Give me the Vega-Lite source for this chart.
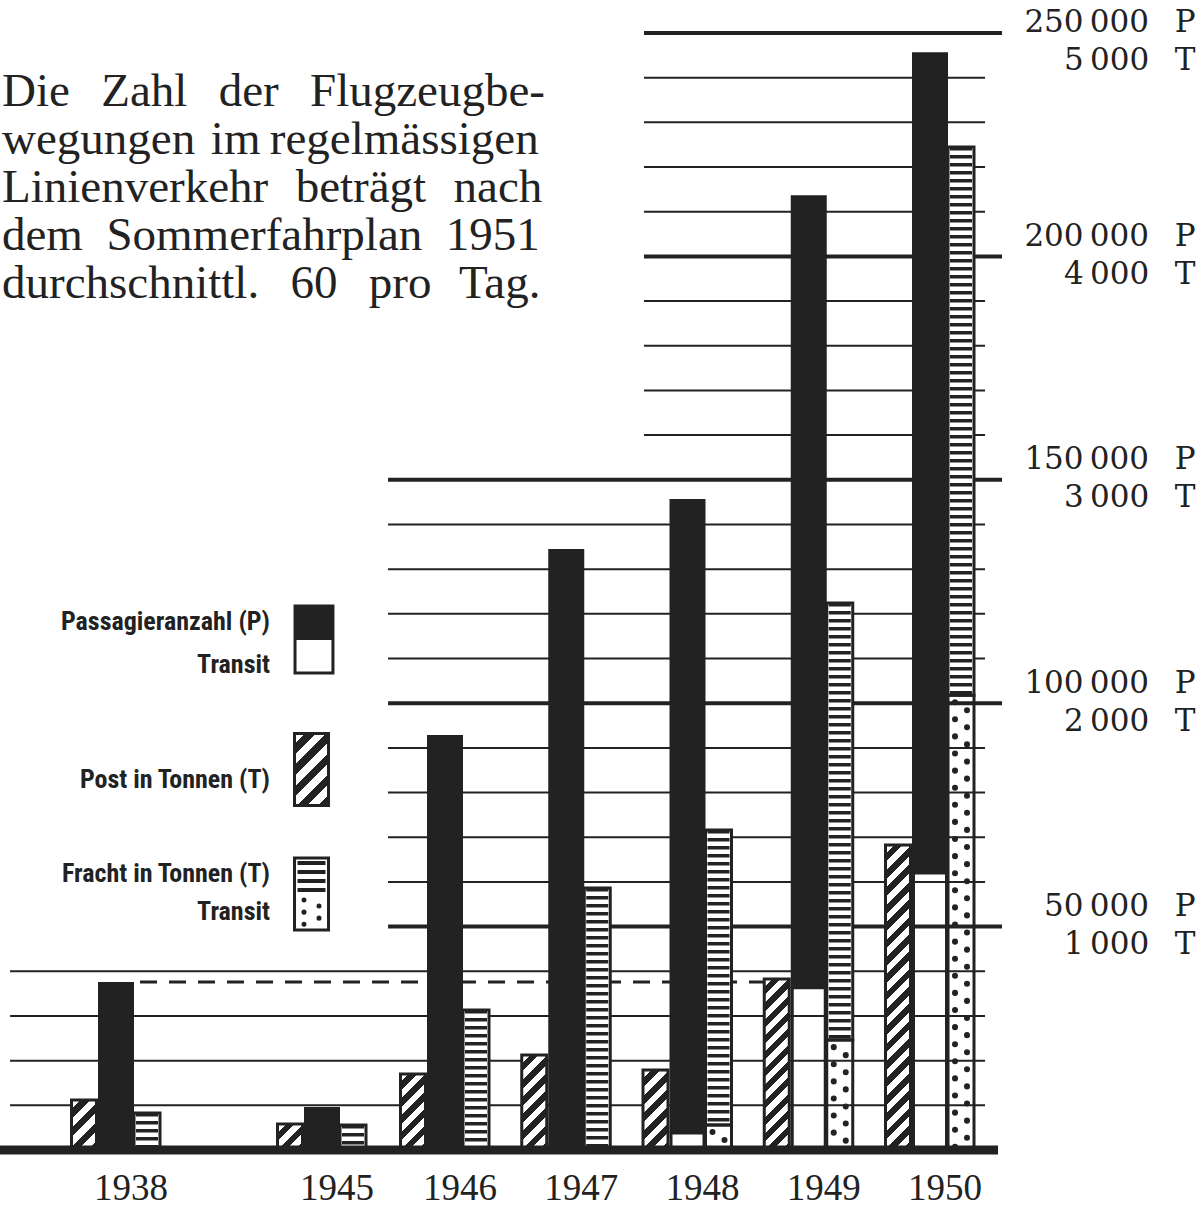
{
  "$schema": "https://vega.github.io/schema/vega-lite/v6.json",
  "width": 1203,
  "height": 1150,
  "autosize": "none",
  "padding": {"left": 0, "top": 0, "right": 0, "bottom": 59},
  "background": "white",
  "config": {"view": {"stroke": null}},
  "datasets": {
    "jahre": [
      {"Jahr": 1938, "Passagiere": 37600, "Passagiere_Transit": 0, "Post_t": 224, "Fracht_t": 166, "Fracht_Transit_t": 0},
      {"Jahr": 1945, "Passagiere": 9600, "Passagiere_Transit": 0, "Post_t": 116, "Fracht_t": 112, "Fracht_Transit_t": 0},
      {"Jahr": 1946, "Passagiere": 92900, "Passagiere_Transit": 0, "Post_t": 340, "Fracht_t": 627, "Fracht_Transit_t": 0},
      {"Jahr": 1947, "Passagiere": 134500, "Passagiere_Transit": 0, "Post_t": 425, "Fracht_t": 1173, "Fracht_Transit_t": 0},
      {"Jahr": 1948, "Passagiere": 145700, "Passagiere_Transit": 3800, "Post_t": 358, "Fracht_t": 1432, "Fracht_Transit_t": 112},
      {"Jahr": 1949, "Passagiere": 213700, "Passagiere_Transit": 36300, "Post_t": 765, "Fracht_t": 2448, "Fracht_Transit_t": 492},
      {"Jahr": 1950, "Passagiere": 245700, "Passagiere_Transit": 62000, "Post_t": 1365, "Fracht_t": 4490, "Fracht_Transit_t": 2036}
    ],
    "raster": [
      {"Stufe": 10000}, {"Stufe": 20000}, {"Stufe": 30000}, {"Stufe": 40000}, {"Stufe": 50000},
      {"Stufe": 60000}, {"Stufe": 70000}, {"Stufe": 80000}, {"Stufe": 90000}, {"Stufe": 100000},
      {"Stufe": 110000}, {"Stufe": 120000}, {"Stufe": 130000}, {"Stufe": 140000}, {"Stufe": 150000},
      {"Stufe": 160000}, {"Stufe": 170000}, {"Stufe": 180000}, {"Stufe": 190000}, {"Stufe": 200000},
      {"Stufe": 210000}, {"Stufe": 220000}, {"Stufe": 230000}, {"Stufe": 240000}, {"Stufe": 250000}
    ]
  },
  "resolve": {"scale": {"y": "independent"}, "axis": {"y": "independent"}},
  "layer": [
    {
      "data": {"name": "raster"},
      "transform": [{"filter": "datum.Stufe < 50000"}],
      "mark": {"type": "rule", "stroke": "#222", "strokeWidth": 2},
      "encoding": {
        "y": {"field": "Stufe", "type": "quantitative",
          "scale": {"domain": [0, 250000], "range": [1150, 33], "nice": false, "zero": false},
          "axis": {"orient": "right", "values": [50000, 100000, 150000, 200000, 250000],
            "labelExpr": "[replace(format(datum.value, ','), ',', '\u2009') + '\u2002\u2004P', replace(format(datum.value / 50, ','), ',', '\u2009') + '\u2002\u2004T']",
            "labelFont": "DejaVu Serif", "labelFontSize": 31, "labelLineHeight": 38, "labelAlign": "right", "labelBaseline": "middle",
            "labelPadding": -8, "labelOffset": {"condition": {"test": "datum.value == 250000", "value": -11}, "value": -20},
            "labelColor": "#222", "labelOverlap": false, "labelFlush": false,
            "ticks": false, "domain": false, "grid": false, "title": null}},
        "x": {"datum": 1934.4, "type": "quantitative", "scale": {"type": "linear", "domain": [1938, 1945, 1946, 1950], "range": [116, 322, 445, 930], "nice": false, "zero": false, "padding": 0}, "axis": null},
        "x2": {"datum": 1950.454}
      }
    },
    {
      "data": {"name": "raster"},
      "transform": [{"filter": "datum.Stufe > 50000 && datum.Stufe < 150000 && datum.Stufe % 50000 != 0"}],
      "mark": {"type": "rule", "stroke": "#222", "strokeWidth": 2},
      "encoding": {
        "y": {"field": "Stufe", "type": "quantitative", "scale": {"domain": [0, 250000], "range": [1150, 33], "nice": false, "zero": false}, "axis": null},
        "x": {"datum": 1945.537, "type": "quantitative", "scale": {"type": "linear", "domain": [1938, 1945, 1946, 1950], "range": [116, 322, 445, 930], "nice": false, "zero": false, "padding": 0}, "axis": null},
        "x2": {"datum": 1950.454}
      }
    },
    {
      "data": {"name": "raster"},
      "transform": [{"filter": "datum.Stufe <= 150000 && datum.Stufe % 50000 == 0"}],
      "mark": {"type": "rule", "stroke": "#222", "strokeWidth": 4},
      "encoding": {
        "y": {"field": "Stufe", "type": "quantitative", "scale": {"domain": [0, 250000], "range": [1150, 33], "nice": false, "zero": false}, "axis": null},
        "x": {"datum": 1945.537, "type": "quantitative", "scale": {"type": "linear", "domain": [1938, 1945, 1946, 1950], "range": [116, 322, 445, 930], "nice": false, "zero": false, "padding": 0}, "axis": null},
        "x2": {"datum": 1950.594}
      }
    },
    {
      "data": {"name": "raster"},
      "transform": [{"filter": "datum.Stufe > 150000 && datum.Stufe % 50000 != 0"}],
      "mark": {"type": "rule", "stroke": "#222", "strokeWidth": 2},
      "encoding": {
        "y": {"field": "Stufe", "type": "quantitative", "scale": {"domain": [0, 250000], "range": [1150, 33], "nice": false, "zero": false}, "axis": null},
        "x": {"datum": 1947.641, "type": "quantitative", "scale": {"type": "linear", "domain": [1938, 1945, 1946, 1950], "range": [116, 322, 445, 930], "nice": false, "zero": false, "padding": 0}, "axis": null},
        "x2": {"datum": 1950.454}
      }
    },
    {
      "data": {"name": "raster"},
      "transform": [{"filter": "datum.Stufe > 150000 && datum.Stufe % 50000 == 0"}],
      "mark": {"type": "rule", "stroke": "#222", "strokeWidth": 4},
      "encoding": {
        "y": {"field": "Stufe", "type": "quantitative", "scale": {"domain": [0, 250000], "range": [1150, 33], "nice": false, "zero": false}, "axis": null},
        "x": {"datum": 1947.641, "type": "quantitative", "scale": {"type": "linear", "domain": [1938, 1945, 1946, 1950], "range": [116, 322, 445, 930], "nice": false, "zero": false, "padding": 0}, "axis": null},
        "x2": {"datum": 1950.594}
      }
    },
    {
      "data": {"name": "jahre"},
      "transform": [{"filter": "datum.Jahr == 1938"}],
      "mark": {"type": "rule", "stroke": "#222", "strokeWidth": 3, "strokeDash": [17, 12]},
      "encoding": {
        "y": {"field": "Passagiere", "type": "quantitative", "scale": {"domain": [0, 250000], "range": [1150, 33], "nice": false, "zero": false}, "axis": null},
        "x": {"datum": 1938.816, "type": "quantitative", "scale": {"type": "linear", "domain": [1938, 1945, 1946, 1950], "range": [116, 322, 445, 930], "nice": false, "zero": false, "padding": 0}, "axis": null},
        "x2": {"datum": 1948.664}
      }
    },
    {
      "data": {"name": "jahre"},
      "mark": {"type": "bar", "width": 36, "color": "#222"},
      "encoding": {
        "x": {"field": "Jahr", "type": "quantitative", "scale": {"type": "linear", "domain": [1938, 1945, 1946, 1950], "range": [116, 322, 445, 930], "nice": false, "zero": false, "padding": 0}, "axis": null},
        "y": {"field": "Passagiere", "type": "quantitative", "scale": {"domain": [0, 250000], "range": [1150, 33], "nice": false, "zero": false}, "axis": null},
        "y2": {"field": "Passagiere_Transit"}
      }
    },
    {
      "data": {"name": "jahre"},
      "transform": [{"filter": "datum.Passagiere_Transit > 0"}],
      "mark": {"type": "bar", "width": 33, "fill": "white", "fillOpacity": 0, "stroke": "#222", "strokeWidth": 3},
      "encoding": {
        "x": {"field": "Jahr", "type": "quantitative", "scale": {"type": "linear", "domain": [1938, 1945, 1946, 1950], "range": [116, 322, 445, 930], "nice": false, "zero": false, "padding": 0}, "axis": null},
        "y": {"field": "Passagiere_Transit", "type": "quantitative", "scale": {"domain": [0, 250000], "range": [1150, 33], "nice": false, "zero": false}, "axis": null},
        "y2": {"datum": 0}
      }
    },
    {
      "data": {"name": "jahre"},
      "mark": {"type": "bar", "width": 25, "xOffset": -32, "stroke": "#222", "strokeWidth": 3},
      "encoding": {
        "x": {"field": "Jahr", "type": "quantitative", "scale": {"type": "linear", "domain": [1938, 1945, 1946, 1950], "range": [116, 322, 445, 930], "nice": false, "zero": false, "padding": 0}, "axis": null},
        "y": {"field": "Post_t", "type": "quantitative", "scale": {"domain": [0, 5000], "range": [1150, 33], "nice": false, "zero": false}, "axis": null},
        "y2": {"datum": 0},
        "fill": {
          "condition": [
            {"test": "datum.Jahr == 1938", "value": {"gradient": "linear", "x1": 0, "y1": 0, "x2": 0.6, "y2": 1.2, "stops": [{"offset":0,"color":"#fff"},{"offset":0.125,"color":"#fff"},{"offset":0.125,"color":"#222"},{"offset":0.25,"color":"#222"},{"offset":0.25,"color":"#fff"},{"offset":0.375,"color":"#fff"},{"offset":0.375,"color":"#222"},{"offset":0.5,"color":"#222"},{"offset":0.5,"color":"#fff"},{"offset":0.625,"color":"#fff"},{"offset":0.625,"color":"#222"},{"offset":0.75,"color":"#222"},{"offset":0.75,"color":"#fff"},{"offset":0.875,"color":"#fff"},{"offset":0.875,"color":"#222"},{"offset":1,"color":"#222"}]}},
            {"test": "datum.Jahr == 1945", "value": {"gradient": "linear", "x1": 0, "y1": 0, "x2": 0.982, "y2": 1.017, "stops": [{"offset":0,"color":"#fff"},{"offset":0.1667,"color":"#fff"},{"offset":0.1667,"color":"#222"},{"offset":0.3333,"color":"#222"},{"offset":0.3333,"color":"#fff"},{"offset":0.5,"color":"#fff"},{"offset":0.5,"color":"#222"},{"offset":0.6667,"color":"#222"},{"offset":0.6667,"color":"#fff"},{"offset":0.8333,"color":"#fff"},{"offset":0.8333,"color":"#222"},{"offset":1,"color":"#222"}]}},
            {"test": "datum.Jahr == 1946", "value": {"gradient": "linear", "x1": 0, "y1": 0, "x2": 0.3945, "y2": 1.1992, "stops": [{"offset":0,"color":"#fff"},{"offset":0.0833,"color":"#fff"},{"offset":0.0833,"color":"#222"},{"offset":0.1667,"color":"#222"},{"offset":0.1667,"color":"#fff"},{"offset":0.25,"color":"#fff"},{"offset":0.25,"color":"#222"},{"offset":0.3333,"color":"#222"},{"offset":0.3333,"color":"#fff"},{"offset":0.4167,"color":"#fff"},{"offset":0.4167,"color":"#222"},{"offset":0.5,"color":"#222"},{"offset":0.5,"color":"#fff"},{"offset":0.5833,"color":"#fff"},{"offset":0.5833,"color":"#222"},{"offset":0.6667,"color":"#222"},{"offset":0.6667,"color":"#fff"},{"offset":0.75,"color":"#fff"},{"offset":0.75,"color":"#222"},{"offset":0.8333,"color":"#222"},{"offset":0.8333,"color":"#fff"},{"offset":0.9167,"color":"#fff"},{"offset":0.9167,"color":"#222"},{"offset":1,"color":"#222"}]}},
            {"test": "datum.Jahr == 1947", "value": {"gradient": "linear", "x1": 0, "y1": 0, "x2": 0.3109, "y2": 1.1813, "stops": [{"offset":0,"color":"#fff"},{"offset":0.0714,"color":"#fff"},{"offset":0.0714,"color":"#222"},{"offset":0.1429,"color":"#222"},{"offset":0.1429,"color":"#fff"},{"offset":0.2143,"color":"#fff"},{"offset":0.2143,"color":"#222"},{"offset":0.2857,"color":"#222"},{"offset":0.2857,"color":"#fff"},{"offset":0.3571,"color":"#fff"},{"offset":0.3571,"color":"#222"},{"offset":0.4286,"color":"#222"},{"offset":0.4286,"color":"#fff"},{"offset":0.5,"color":"#fff"},{"offset":0.5,"color":"#222"},{"offset":0.5714,"color":"#222"},{"offset":0.5714,"color":"#fff"},{"offset":0.6429,"color":"#fff"},{"offset":0.6429,"color":"#222"},{"offset":0.7143,"color":"#222"},{"offset":0.7143,"color":"#fff"},{"offset":0.7857,"color":"#fff"},{"offset":0.7857,"color":"#222"},{"offset":0.8571,"color":"#222"},{"offset":0.8571,"color":"#fff"},{"offset":0.9286,"color":"#fff"},{"offset":0.9286,"color":"#222"},{"offset":1,"color":"#222"}]}},
            {"test": "datum.Jahr == 1948", "value": {"gradient": "linear", "x1": 0, "y1": 0, "x2": 0.3737, "y2": 1.1957, "stops": [{"offset":0,"color":"#fff"},{"offset":0.0833,"color":"#fff"},{"offset":0.0833,"color":"#222"},{"offset":0.1667,"color":"#222"},{"offset":0.1667,"color":"#fff"},{"offset":0.25,"color":"#fff"},{"offset":0.25,"color":"#222"},{"offset":0.3333,"color":"#222"},{"offset":0.3333,"color":"#fff"},{"offset":0.4167,"color":"#fff"},{"offset":0.4167,"color":"#222"},{"offset":0.5,"color":"#222"},{"offset":0.5,"color":"#fff"},{"offset":0.5833,"color":"#fff"},{"offset":0.5833,"color":"#222"},{"offset":0.6667,"color":"#222"},{"offset":0.6667,"color":"#fff"},{"offset":0.75,"color":"#fff"},{"offset":0.75,"color":"#222"},{"offset":0.8333,"color":"#222"},{"offset":0.8333,"color":"#fff"},{"offset":0.9167,"color":"#fff"},{"offset":0.9167,"color":"#222"},{"offset":1,"color":"#222"}]}},
            {"test": "datum.Jahr == 1949", "value": {"gradient": "linear", "x1": 0, "y1": 0, "x2": 0.1641, "y2": 1.1222, "stops": [{"offset":0,"color":"#fff"},{"offset":0.0417,"color":"#fff"},{"offset":0.0417,"color":"#222"},{"offset":0.0833,"color":"#222"},{"offset":0.0833,"color":"#fff"},{"offset":0.125,"color":"#fff"},{"offset":0.125,"color":"#222"},{"offset":0.1667,"color":"#222"},{"offset":0.1667,"color":"#fff"},{"offset":0.2083,"color":"#fff"},{"offset":0.2083,"color":"#222"},{"offset":0.25,"color":"#222"},{"offset":0.25,"color":"#fff"},{"offset":0.2917,"color":"#fff"},{"offset":0.2917,"color":"#222"},{"offset":0.3333,"color":"#222"},{"offset":0.3333,"color":"#fff"},{"offset":0.375,"color":"#fff"},{"offset":0.375,"color":"#222"},{"offset":0.4167,"color":"#222"},{"offset":0.4167,"color":"#fff"},{"offset":0.4583,"color":"#fff"},{"offset":0.4583,"color":"#222"},{"offset":0.5,"color":"#222"},{"offset":0.5,"color":"#fff"},{"offset":0.5417,"color":"#fff"},{"offset":0.5417,"color":"#222"},{"offset":0.5833,"color":"#222"},{"offset":0.5833,"color":"#fff"},{"offset":0.625,"color":"#fff"},{"offset":0.625,"color":"#222"},{"offset":0.6667,"color":"#222"},{"offset":0.6667,"color":"#fff"},{"offset":0.7083,"color":"#fff"},{"offset":0.7083,"color":"#222"},{"offset":0.75,"color":"#222"},{"offset":0.75,"color":"#fff"},{"offset":0.7917,"color":"#fff"},{"offset":0.7917,"color":"#222"},{"offset":0.8333,"color":"#222"},{"offset":0.8333,"color":"#fff"},{"offset":0.875,"color":"#fff"},{"offset":0.875,"color":"#222"},{"offset":0.9167,"color":"#222"},{"offset":0.9167,"color":"#fff"},{"offset":0.9583,"color":"#fff"},{"offset":0.9583,"color":"#222"},{"offset":1,"color":"#222"}]}},
            {"test": "datum.Jahr == 1950", "value": {"gradient": "linear", "x1": 0, "y1": 0, "x2": 0.0881, "y2": 1.0747, "stops": [{"offset":0,"color":"#fff"},{"offset":0.0263,"color":"#fff"},{"offset":0.0263,"color":"#222"},{"offset":0.0526,"color":"#222"},{"offset":0.0526,"color":"#fff"},{"offset":0.0789,"color":"#fff"},{"offset":0.0789,"color":"#222"},{"offset":0.1053,"color":"#222"},{"offset":0.1053,"color":"#fff"},{"offset":0.1316,"color":"#fff"},{"offset":0.1316,"color":"#222"},{"offset":0.1579,"color":"#222"},{"offset":0.1579,"color":"#fff"},{"offset":0.1842,"color":"#fff"},{"offset":0.1842,"color":"#222"},{"offset":0.2105,"color":"#222"},{"offset":0.2105,"color":"#fff"},{"offset":0.2368,"color":"#fff"},{"offset":0.2368,"color":"#222"},{"offset":0.2632,"color":"#222"},{"offset":0.2632,"color":"#fff"},{"offset":0.2895,"color":"#fff"},{"offset":0.2895,"color":"#222"},{"offset":0.3158,"color":"#222"},{"offset":0.3158,"color":"#fff"},{"offset":0.3421,"color":"#fff"},{"offset":0.3421,"color":"#222"},{"offset":0.3684,"color":"#222"},{"offset":0.3684,"color":"#fff"},{"offset":0.3947,"color":"#fff"},{"offset":0.3947,"color":"#222"},{"offset":0.4211,"color":"#222"},{"offset":0.4211,"color":"#fff"},{"offset":0.4474,"color":"#fff"},{"offset":0.4474,"color":"#222"},{"offset":0.4737,"color":"#222"},{"offset":0.4737,"color":"#fff"},{"offset":0.5,"color":"#fff"},{"offset":0.5,"color":"#222"},{"offset":0.5263,"color":"#222"},{"offset":0.5263,"color":"#fff"},{"offset":0.5526,"color":"#fff"},{"offset":0.5526,"color":"#222"},{"offset":0.5789,"color":"#222"},{"offset":0.5789,"color":"#fff"},{"offset":0.6053,"color":"#fff"},{"offset":0.6053,"color":"#222"},{"offset":0.6316,"color":"#222"},{"offset":0.6316,"color":"#fff"},{"offset":0.6579,"color":"#fff"},{"offset":0.6579,"color":"#222"},{"offset":0.6842,"color":"#222"},{"offset":0.6842,"color":"#fff"},{"offset":0.7105,"color":"#fff"},{"offset":0.7105,"color":"#222"},{"offset":0.7368,"color":"#222"},{"offset":0.7368,"color":"#fff"},{"offset":0.7632,"color":"#fff"},{"offset":0.7632,"color":"#222"},{"offset":0.7895,"color":"#222"},{"offset":0.7895,"color":"#fff"},{"offset":0.8158,"color":"#fff"},{"offset":0.8158,"color":"#222"},{"offset":0.8421,"color":"#222"},{"offset":0.8421,"color":"#fff"},{"offset":0.8684,"color":"#fff"},{"offset":0.8684,"color":"#222"},{"offset":0.8947,"color":"#222"},{"offset":0.8947,"color":"#fff"},{"offset":0.9211,"color":"#fff"},{"offset":0.9211,"color":"#222"},{"offset":0.9474,"color":"#222"},{"offset":0.9474,"color":"#fff"},{"offset":0.9737,"color":"#fff"},{"offset":0.9737,"color":"#222"},{"offset":1,"color":"#222"}]}}
          ],
          "value": "white"
        }
      }
    },
    {
      "data": {"name": "jahre"},
      "mark": {"type": "bar", "width": 26, "xOffset": 31, "fill": "white", "stroke": "#222", "strokeWidth": 3},
      "encoding": {
        "x": {"field": "Jahr", "type": "quantitative", "scale": {"type": "linear", "domain": [1938, 1945, 1946, 1950], "range": [116, 322, 445, 930], "nice": false, "zero": false, "padding": 0}, "axis": null},
        "y": {"field": "Fracht_t", "type": "quantitative", "scale": {"domain": [0, 5000], "range": [1150, 33], "nice": false, "zero": false}, "axis": null},
        "y2": {"field": "Fracht_Transit_t"}
      }
    },
    {
      "data": {"name": "jahre"},
      "mark": {"type": "rule", "xOffset": 31, "stroke": "#222", "strokeWidth": 22, "strokeCap": "butt", "strokeDash": [3.5, 4.5]},
      "encoding": {
        "x": {"field": "Jahr", "type": "quantitative", "scale": {"type": "linear", "domain": [1938, 1945, 1946, 1950], "range": [116, 322, 445, 930], "nice": false, "zero": false, "padding": 0}, "axis": null},
        "y": {"field": "Fracht_t", "type": "quantitative", "scale": {"domain": [0, 5000], "range": [1150, 33], "nice": false, "zero": false}, "axis": null},
        "y2": {"field": "Fracht_Transit_t"}
      }
    },
    {
      "data": {"name": "jahre"},
      "transform": [{"filter": "datum.Fracht_Transit_t > 0"}],
      "mark": {"type": "bar", "width": 26, "xOffset": 31, "fill": "white", "fillOpacity": 0, "stroke": "#222", "strokeWidth": 3},
      "encoding": {
        "x": {"field": "Jahr", "type": "quantitative", "scale": {"type": "linear", "domain": [1938, 1945, 1946, 1950], "range": [116, 322, 445, 930], "nice": false, "zero": false, "padding": 0}, "axis": null},
        "y": {"field": "Fracht_Transit_t", "type": "quantitative", "scale": {"domain": [0, 5000], "range": [1150, 33], "nice": false, "zero": false}, "axis": null},
        "y2": {"datum": 0}
      }
    },
    {
      "data": {"name": "jahre"},
      "transform": [{"filter": "datum.Fracht_Transit_t > 0"}],
      "mark": {"type": "rule", "xOffset": 25, "stroke": "#222", "strokeWidth": 6, "strokeCap": "round", "strokeDash": [0.1, 17], "strokeDashOffset": -7},
      "encoding": {
        "x": {"field": "Jahr", "type": "quantitative", "scale": {"type": "linear", "domain": [1938, 1945, 1946, 1950], "range": [116, 322, 445, 930], "nice": false, "zero": false, "padding": 0}, "axis": null},
        "y": {"field": "Fracht_Transit_t", "type": "quantitative", "scale": {"domain": [0, 5000], "range": [1150, 33], "nice": false, "zero": false}, "axis": null},
        "y2": {"datum": 0}
      }
    },
    {
      "data": {"name": "jahre"},
      "transform": [{"filter": "datum.Fracht_Transit_t > 0"}],
      "mark": {"type": "rule", "xOffset": 37, "stroke": "#222", "strokeWidth": 6, "strokeCap": "round", "strokeDash": [0.1, 17], "strokeDashOffset": -15},
      "encoding": {
        "x": {"field": "Jahr", "type": "quantitative", "scale": {"type": "linear", "domain": [1938, 1945, 1946, 1950], "range": [116, 322, 445, 930], "nice": false, "zero": false, "padding": 0}, "axis": null},
        "y": {"field": "Fracht_Transit_t", "type": "quantitative", "scale": {"domain": [0, 5000], "range": [1150, 33], "nice": false, "zero": false}, "axis": null},
        "y2": {"datum": 0}
      }
    },
    {
      "data": {"values": [{}]},
      "mark": {"type": "rule", "stroke": "#222", "strokeWidth": 9},
      "encoding": {
        "y": {"datum": 0, "type": "quantitative", "scale": {"domain": [0, 250000], "range": [1150, 33], "nice": false, "zero": false}, "axis": null},
        "x": {"datum": 1934.058, "type": "quantitative", "scale": {"type": "linear", "domain": [1938, 1945, 1946, 1950], "range": [116, 322, 445, 930], "nice": false, "zero": false, "padding": 0}, "axis": null},
        "x2": {"datum": 1950.561}
      }
    },
    {
      "data": {"name": "jahre"},
      "mark": {"type": "text", "font": "Liberation Serif", "fontSize": 37, "align": "center", "baseline": "alphabetic", "xOffset": 15, "color": "#222"},
      "encoding": {
        "x": {"field": "Jahr", "type": "quantitative", "scale": {"type": "linear", "domain": [1938, 1945, 1946, 1950], "range": [116, 322, 445, 930], "nice": false, "zero": false, "padding": 0}, "axis": null},
        "y": {"datum": -11190, "type": "quantitative", "scale": {"domain": [0, 250000], "range": [1150, 33], "nice": false, "zero": false}, "axis": null},
        "text": {"field": "Jahr", "type": "nominal"}
      }
    },
    {
      "data": {"values": [{}]},
      "mark": {"type": "text", "font": "Liberation Serif", "fontSize": 47, "lineHeight": 48, "align": "left", "baseline": "alphabetic", "color": "#222"},
      "encoding": {
        "x": {"datum": 1934.126, "type": "quantitative", "scale": {"type": "linear", "domain": [1938, 1945, 1946, 1950], "range": [116, 322, 445, 930], "nice": false, "zero": false, "padding": 0}, "axis": null},
        "y": {"datum": 233658, "type": "quantitative", "scale": {"domain": [0, 250000], "range": [1150, 33], "nice": false, "zero": false}, "axis": null},
        "text": {"value": ["Die\u2004\u2004Zahl\u2004\u2004der\u2004\u2004Flugzeugbe-", "wegungen\u2004im\u2009regelmässigen", "Linienverkehr\u2004\u2005beträgt\u2004\u2005nach", "dem\u2002Sommerfahrplan\u20021951", "durchschnittl.\u2004\u200460\u2004\u2004pro\u2004\u2005Tag."]}
      }
    },
    {
      "data": {"values": [{}]},
      "mark": {"type": "text", "font": "Roboto Condensed, Roboto", "fontWeight": "bold", "fontSize": 26, "lineHeight": 43, "align": "right", "baseline": "alphabetic", "color": "#222"},
      "encoding": {
        "x": {"datum": 1943.233, "type": "quantitative", "scale": {"type": "linear", "domain": [1938, 1945, 1946, 1950], "range": [116, 322, 445, 930], "nice": false, "zero": false, "padding": 0}, "axis": null},
        "y": {"datum": 116381, "type": "quantitative", "scale": {"domain": [0, 250000], "range": [1150, 33], "nice": false, "zero": false}, "axis": null},
        "text": {"value": ["Passagieranzahl (P)", "Transit"]}
      }
    },
    {
      "data": {"values": [{}]},
      "mark": {"type": "text", "font": "Roboto Condensed, Roboto", "fontWeight": "bold", "fontSize": 26, "align": "right", "baseline": "alphabetic", "color": "#222"},
      "encoding": {
        "x": {"datum": 1943.233, "type": "quantitative", "scale": {"type": "linear", "domain": [1938, 1945, 1946, 1950], "range": [116, 322, 445, 930], "nice": false, "zero": false, "padding": 0}, "axis": null},
        "y": {"datum": 81019, "type": "quantitative", "scale": {"domain": [0, 250000], "range": [1150, 33], "nice": false, "zero": false}, "axis": null},
        "text": {"value": "Post in Tonnen (T)"}
      }
    },
    {
      "data": {"values": [{}]},
      "mark": {"type": "text", "font": "Roboto Condensed, Roboto", "fontWeight": "bold", "fontSize": 26, "lineHeight": 38, "align": "right", "baseline": "alphabetic", "color": "#222"},
      "encoding": {
        "x": {"datum": 1943.233, "type": "quantitative", "scale": {"type": "linear", "domain": [1938, 1945, 1946, 1950], "range": [116, 322, 445, 930], "nice": false, "zero": false, "padding": 0}, "axis": null},
        "y": {"datum": 59981, "type": "quantitative", "scale": {"domain": [0, 250000], "range": [1150, 33], "nice": false, "zero": false}, "axis": null},
        "text": {"value": ["Fracht in Tonnen (T)", "Transit"]}
      }
    },
    {
      "data": {"values": [{}]},
      "mark": {"type": "rect", "color": "#222"},
      "encoding": {
        "x": {"datum": 1944.083, "type": "quantitative", "scale": {"type": "linear", "domain": [1938, 1945, 1946, 1950], "range": [116, 322, 445, 930], "nice": false, "zero": false, "padding": 0}, "axis": null},
        "x2": {"datum": 1945.089},
        "y": {"datum": 121753, "type": "quantitative", "scale": {"domain": [0, 250000], "range": [1150, 33], "nice": false, "zero": false}, "axis": null},
        "y2": {"datum": 114143}
      }
    },
    {
      "data": {"values": [{}]},
      "mark": {"type": "rect", "fill": "white", "fillOpacity": 0, "stroke": "#222", "strokeWidth": 3},
      "encoding": {
        "x": {"datum": 1944.083, "type": "quantitative", "scale": {"type": "linear", "domain": [1938, 1945, 1946, 1950], "range": [116, 322, 445, 930], "nice": false, "zero": false, "padding": 0}, "axis": null},
        "x2": {"datum": 1945.089},
        "y": {"datum": 121753, "type": "quantitative", "scale": {"domain": [0, 250000], "range": [1150, 33], "nice": false, "zero": false}, "axis": null},
        "y2": {"datum": 106757}
      }
    },
    {
      "data": {"values": [{}]},
      "mark": {"type": "rect", "stroke": "#222", "strokeWidth": 3,
        "fill": {"gradient": "linear", "x1": 0, "y1": 0, "x2": 0.5685, "y2": 1.2038, "stops": [{"offset":0,"color":"#fff"},{"offset":0.1,"color":"#fff"},{"offset":0.1,"color":"#222"},{"offset":0.2,"color":"#222"},{"offset":0.2,"color":"#fff"},{"offset":0.3,"color":"#fff"},{"offset":0.3,"color":"#222"},{"offset":0.4,"color":"#222"},{"offset":0.4,"color":"#fff"},{"offset":0.5,"color":"#fff"},{"offset":0.5,"color":"#222"},{"offset":0.6,"color":"#222"},{"offset":0.6,"color":"#fff"},{"offset":0.7,"color":"#fff"},{"offset":0.7,"color":"#222"},{"offset":0.8,"color":"#222"},{"offset":0.8,"color":"#fff"},{"offset":0.9,"color":"#fff"},{"offset":0.9,"color":"#222"},{"offset":1,"color":"#222"}]}},
      "encoding": {
        "x": {"datum": 1944.066, "type": "quantitative", "scale": {"type": "linear", "domain": [1938, 1945, 1946, 1950], "range": [116, 322, 445, 930], "nice": false, "zero": false, "padding": 0}, "axis": null},
        "x2": {"datum": 1945.053},
        "y": {"datum": 93217, "type": "quantitative", "scale": {"domain": [0, 250000], "range": [1150, 33], "nice": false, "zero": false}, "axis": null},
        "y2": {"datum": 77103}
      }
    },
    {
      "data": {"values": [{}]},
      "mark": {"type": "rect", "fill": "white", "stroke": "#222", "strokeWidth": 3},
      "encoding": {
        "x": {"datum": 1944.066, "type": "quantitative", "scale": {"type": "linear", "domain": [1938, 1945, 1946, 1950], "range": [116, 322, 445, 930], "nice": false, "zero": false, "padding": 0}, "axis": null},
        "x2": {"datum": 1945.053},
        "y": {"datum": 65353, "type": "quantitative", "scale": {"domain": [0, 250000], "range": [1150, 33], "nice": false, "zero": false}, "axis": null},
        "y2": {"datum": 49238}
      }
    },
    {
      "data": {"values": [{}]},
      "mark": {"type": "rule", "stroke": "#222", "strokeWidth": 28, "strokeCap": "butt", "strokeDash": [4, 5]},
      "encoding": {
        "x": {"datum": 1944.643, "type": "quantitative", "scale": {"type": "linear", "domain": [1938, 1945, 1946, 1950], "range": [116, 322, 445, 930], "nice": false, "zero": false, "padding": 0}, "axis": null},
        "y": {"datum": 64681, "type": "quantitative", "scale": {"domain": [0, 250000], "range": [1150, 33], "nice": false, "zero": false}, "axis": null},
        "y2": {"datum": 57519}
      }
    },
    {
      "data": {"values": [{}]},
      "mark": {"type": "rule", "stroke": "#222", "strokeWidth": 5, "strokeCap": "round", "strokeDash": [0.1, 12], "strokeDashOffset": -3},
      "encoding": {
        "x": {"datum": 1944.388, "type": "quantitative", "scale": {"type": "linear", "domain": [1938, 1945, 1946, 1950], "range": [116, 322, 445, 930], "nice": false, "zero": false, "padding": 0}, "axis": null},
        "y": {"datum": 56624, "type": "quantitative", "scale": {"domain": [0, 250000], "range": [1150, 33], "nice": false, "zero": false}, "axis": null},
        "y2": {"datum": 49686}
      }
    },
    {
      "data": {"values": [{}]},
      "mark": {"type": "rule", "stroke": "#222", "strokeWidth": 5, "strokeCap": "round", "strokeDash": [0.1, 12], "strokeDashOffset": -9},
      "encoding": {
        "x": {"datum": 1944.898, "type": "quantitative", "scale": {"type": "linear", "domain": [1938, 1945, 1946, 1950], "range": [116, 322, 445, 930], "nice": false, "zero": false, "padding": 0}, "axis": null},
        "y": {"datum": 56624, "type": "quantitative", "scale": {"domain": [0, 250000], "range": [1150, 33], "nice": false, "zero": false}, "axis": null},
        "y2": {"datum": 49686}
      }
    }
  ]
}
